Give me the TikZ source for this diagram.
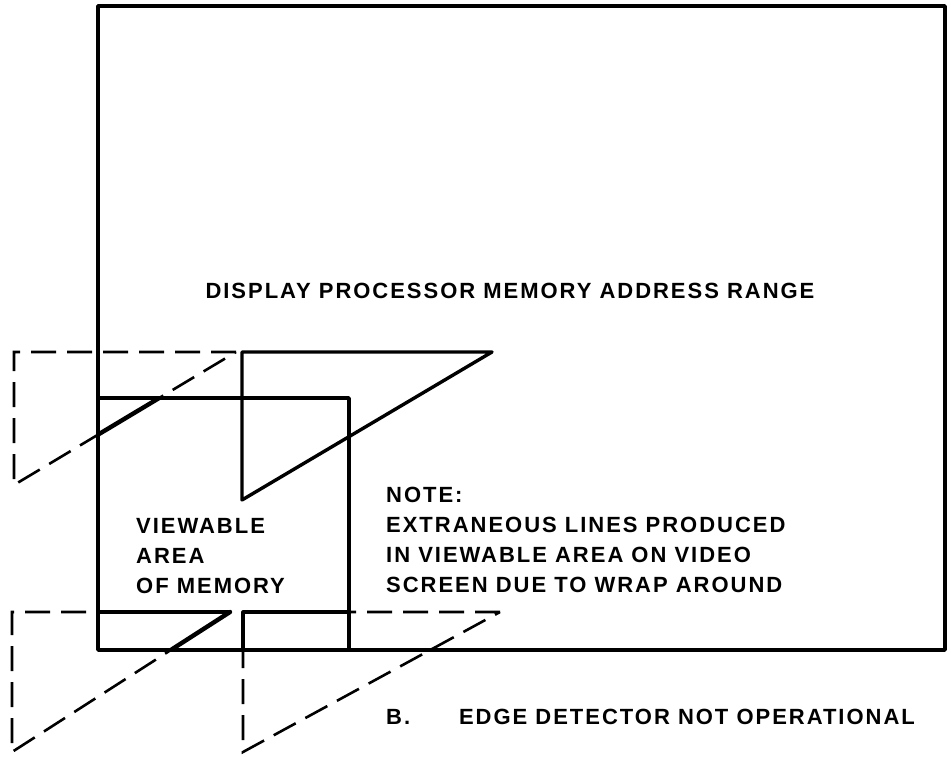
\documentclass[tikz,border=0pt]{standalone}
\usepackage{fontspec}
\setmainfont{Liberation Sans}[LetterSpace=9]
\usepackage{tikz}
\usetikzlibrary{positioning}

\tikzset{
  memline/.style={line width=3.4pt, line cap=round, line join=round},
  wrapline/.style={line width=2.6pt, dash pattern=on 25pt off 11pt},
  extraline/.style={line width=4.4pt, line cap=round},
  txt/.style={font=\fontsize{22}{30}\selectfont\bfseries, inner sep=0pt, align=left}
}

\begin{document}
\begin{tikzpicture}[x=1pt, y=-1pt]
  \useasboundingbox (0,0) rectangle (951,757);

  % memory address range and viewable area
  \draw[memline] (98,6) rectangle (945,650);
  \draw[memline] (98,398) -- (349,398) -- (349,650);

  % figure drawn in memory
  \draw[memline] (242,352) -- (492,352) -- (242,500) -- cycle;

  % wrapped copies outside the address range
  \draw[wrapline] (236,352) -- (14,352) -- (14,485) -- cycle;
  \draw[wrapline] (230,612) -- (12,612) -- (12,752) -- cycle;
  \draw[wrapline] (500,612) -- (243,612) -- (243,752) -- cycle;

  % what shows up on the screen
  \begin{scope}
    \clip (100,400) rectangle (347,648);
    \draw[extraline] (236,352) -- (14,485);
    \draw[extraline] (230,612) -- (12,752);
    \draw[memline] (230,612) -- (12,612);
    \draw[memline] (349,612) -- (243,612) -- (243,752);
  \end{scope}

  \node[txt, anchor=base] (range) at (510,298) {DISPLAY PROCESSOR MEMORY ADDRESS RANGE};
  \node[txt, anchor=north west] (view) at (136,518) {VIEWABLE\\AREA\\OF MEMORY};
  \node[txt, anchor=north west] (note) at (386,487) {NOTE:\\EXTRANEOUS LINES PRODUCED\\IN VIEWABLE AREA ON VIDEO\\SCREEN DUE TO WRAP AROUND};
  \node[txt, anchor=base west] (bmark) at (386,724) {B.};
  \node[txt, anchor=base east] (edge) at (915,724) {EDGE DETECTOR NOT OPERATIONAL};
\end{tikzpicture}
\end{document}
